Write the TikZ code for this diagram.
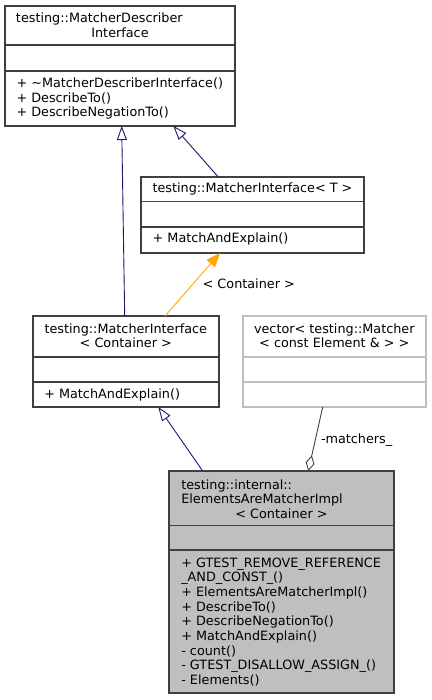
\documentclass[tikz,border=0pt]{standalone}
\usepackage{fontspec}
\setmainfont{DejaVu Sans}
\usetikzlibrary{arrows.meta}
\definecolor{edgeblue}{HTML}{191970}
\definecolor{edgeorange}{HTML}{FFA500}
\definecolor{bordergray}{HTML}{404040}
\definecolor{lightborder}{HTML}{BFBFBF}
\definecolor{fillgray}{HTML}{BFBFBF}
\begin{document}
\begin{tikzpicture}[x=1pt,y=-1pt,
  every node/.style={inner sep=0pt, outer sep=0pt},
  txt/.style={font=\fontsize{12.8}{14.7}\selectfont},
  lt/.style={txt, anchor=base west},
  ct/.style={txt, anchor=base},
  box/.style={draw=bordergray, line width=1.1pt, anchor=north west, fill=white},
  divider/.style={draw=bordergray, line width=1.1pt},
  inh/.style={draw=edgeblue, line width=0.9pt, -{Triangle[open, length=14pt, width=10pt]}},
  tmpl/.style={draw=edgeorange, line width=0.9pt, -{Triangle[length=14pt, width=11pt]}},
  aggr/.style={draw=bordergray, line width=0.9pt, -{Diamond[open, length=16pt, width=9pt]}}
]
\useasboundingbox (0,0) rectangle (431,700);

% ---- boxes ----
\node[box, minimum width=230pt, minimum height=120pt] (b1) at (5,6) {};
\draw[divider] (5,45) -- (235,45);
\draw[divider] (5,71) -- (235,71);
\node[lt] (b1t1) at (16,23) {testing::MatcherDescriber};
\node[ct] (b1t2) at (120,38) {Interface};
\node[lt] (b1m1) at (16.5,88) {+ \textasciitilde MatcherDescriberInterface()};
\node[lt] (b1m2) at (16.5,102.5) {+ DescribeTo()};
\node[lt] (b1m3) at (16.5,117) {+ DescribeNegationTo()};

\node[box, minimum width=223pt, minimum height=76pt] (b2) at (141,177) {};
\draw[divider] (141,201.5) -- (364,201.5);
\draw[divider] (141,227) -- (364,227);
\node[ct] (b2t1) at (252.5,193) {testing::MatcherInterface< T >};
\node[lt] (b2m1) at (152.7,243) {+ MatchAndExplain()};

\node[box, minimum width=186pt, minimum height=91pt] (b3) at (33,316) {};
\draw[divider] (33,357) -- (219,357);
\draw[divider] (33,382) -- (219,382);
\node[ct] (b3t1) at (125.8,333) {testing::MatcherInterface};
\node[ct] (b3t2) at (125.8,347) {< Container >};
\node[lt] (b3m1) at (44.3,398) {+ MatchAndExplain()};

\node[box, draw=lightborder, minimum width=183pt, minimum height=91pt] (b4) at (243,316) {};
\draw[divider, draw=lightborder] (243,357) -- (426,357);
\draw[divider, draw=lightborder] (243,382) -- (426,382);
\node[ct] (b4t1) at (334.3,333) {vector< testing::Matcher};
\node[ct] (b4t2) at (334.3,347) {< const Element \& > >};

\node[box, fill=fillgray, minimum width=225pt, minimum height=222pt] (b5) at (169,471) {};
\draw[divider] (169,525.5) -- (394,525.5);
\draw[divider] (169,550) -- (394,550);
\node[lt] (b5t1) at (181.3,489) {testing::internal::};
\node[lt] (b5t2) at (181.3,503.5) {ElementsAreMatcherImpl};
\node[ct] (b5t3) at (281.5,518) {< Container >};
\node[lt] (b5m1) at (181.3,567) {+ GTEST\_REMOVE\_REFERENCE};
\node[lt] (b5m2) at (181.3,581.7) {\_AND\_CONST\_()};
\node[lt] (b5m3) at (181.3,596.4) {+ ElementsAreMatcherImpl()};
\node[lt] (b5m4) at (181.3,611.1) {+ DescribeTo()};
\node[lt] (b5m5) at (181.3,625.8) {+ DescribeNegationTo()};
\node[lt] (b5m6) at (181.3,640.5) {+ MatchAndExplain()};
\node[lt] (b5m7) at (181.3,655.2) {- count()};
\node[lt] (b5m8) at (181.3,669.9) {- GTEST\_DISALLOW\_ASSIGN\_()};
\node[lt] (b5m9) at (181.3,684.6) {- Elements()};

% ---- connector end points ----
\coordinate (e1s) at (124.7,316);
\coordinate (e1t) at (121.7,126);
\coordinate (e2s) at (218.3,177);
\coordinate (e2t) at (173.3,126);
\coordinate (e3s) at (165,316);
\coordinate (e3t) at (220,253);
\coordinate (e4s) at (202.7,471);
\coordinate (e4t) at (158.3,407);
\coordinate (e5s) at (322.7,407);
\coordinate (e5t) at (308.3,471);

% ---- connectors ----
\draw[inh] (e1s) -- (e1t);
\draw[inh] (e2s) -- (e2t);
\draw[tmpl] (e3s) -- (e3t);
\draw[inh] (e4s) -- (e4t);
\draw[aggr] (e5s) -- (e5t);

\node[lt] (lbl1) at (202.7,288) {< Container >};
\node[lt] (lbl2) at (321,443) {-matchers\_};
\end{tikzpicture}
\end{document}
